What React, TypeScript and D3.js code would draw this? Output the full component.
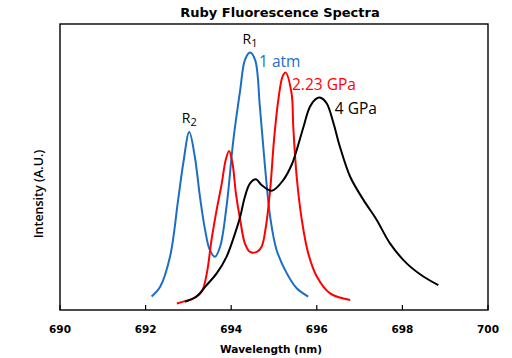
import React from "react";
import * as d3 from "d3";

// [wavelength nm, intensity a.u.]
const oneAtm: [number, number][] = [
  [692.14, 0.047], [692.34, 0.081], [692.57, 0.186], [692.76, 0.385], [692.88, 0.513],
  [693.02, 0.622], [693.15, 0.536], [693.27, 0.396], [693.39, 0.28], [693.5, 0.21],
  [693.62, 0.186], [693.74, 0.221], [693.89, 0.361], [694.05, 0.594], [694.21, 0.769],
  [694.32, 0.874], [694.44, 0.9], [694.56, 0.874], [694.67, 0.711], [694.79, 0.501],
  [694.91, 0.326], [695.06, 0.21], [695.3, 0.128], [695.53, 0.076], [695.8, 0.047],
];

const gpa223: [number, number][] = [
  [692.73, 0.023], [692.92, 0.031], [693.12, 0.041], [693.31, 0.064], [693.43, 0.128],
  [693.54, 0.245], [693.66, 0.35], [693.78, 0.443], [693.87, 0.524], [693.95, 0.556],
  [694.03, 0.513], [694.11, 0.408], [694.21, 0.315], [694.32, 0.233], [694.44, 0.203],
  [694.6, 0.203], [694.71, 0.221], [694.81, 0.291], [694.91, 0.42], [695.0, 0.594],
  [695.1, 0.734], [695.2, 0.816], [695.27, 0.83], [695.41, 0.758], [695.45, 0.641],
  [695.53, 0.466], [695.65, 0.315], [695.8, 0.198], [696.0, 0.117], [696.31, 0.058],
  [696.78, 0.035],
];

const gpa4: [number, number][] = [
  [692.92, 0.029], [693.19, 0.047], [693.39, 0.081], [693.66, 0.128], [693.89, 0.186],
  [694.09, 0.268], [694.21, 0.326], [694.32, 0.396], [694.44, 0.443], [694.58, 0.457],
  [694.71, 0.437], [694.95, 0.417], [695.22, 0.455], [695.41, 0.507], [695.53, 0.559],
  [695.69, 0.641], [695.84, 0.711], [696.0, 0.74], [696.09, 0.742], [696.23, 0.723],
  [696.39, 0.653], [696.54, 0.571], [696.78, 0.466], [697.09, 0.385], [697.4, 0.315],
  [697.71, 0.233], [698.1, 0.163], [698.49, 0.117], [698.84, 0.087],
];

const xTicks = [690, 692, 694, 696, 698, 700];

const series = [
  { name: "1 atm", data: oneAtm, color: "#1c6ec4" },
  { name: "2.23 GPa", data: gpa223, color: "#ff0000" },
  { name: "4 GPa", data: gpa4, color: "#000000" },
];

// text labels: [text, subscript, wavelength, intensity, colour, anchor]
const labels: [string, string, number, number, string, string][] = [
  ["R", "1", 694.44, 0.93, "#000000", "middle"],
  ["R", "2", 693.02, 0.654, "#000000", "middle"],
  ["1 atm", "", 694.65, 0.85, "#1c6ec4", "start"],
  ["2.23 GPa", "", 695.42, 0.77, "#ff0000", "start"],
  ["4 GPa", "", 696.42, 0.685, "#000000", "start"],
];

const W = 512;
const H = 358;
const m = { left: 60, right: 24, top: 24, bottom: 48 };

export default function App() {
  const x = d3.scaleLinear().domain([690, 700]).range([m.left, W - m.right]);
  const y = d3.scaleLinear().domain([0, 1]).range([H - m.bottom, m.top]);
  const line = d3
    .line<[number, number]>()
    .x((d) => x(d[0]))
    .y((d) => y(d[1]))
    .curve(d3.curveCatmullRom);

  const bold = "'DejaVu Sans', sans-serif";
  const plain = "'Open Sans', sans-serif";

  return (
    <svg
      width={W}
      height={H}
      style={{ position: "absolute", left: 0, top: 0, background: "#fff" }}
    >
      <text x={280} y={17} textAnchor="middle" fontFamily={bold} fontWeight="bold" fontSize={13}>
        Ruby Fluorescence Spectra
      </text>

      {series.map((s) => (
        <path key={s.name} d={line(s.data) || ""} fill="none" stroke={s.color} strokeWidth={2} />
      ))}

      <rect
        x={m.left}
        y={m.top}
        width={W - m.left - m.right}
        height={H - m.top - m.bottom}
        fill="none"
        stroke="#000"
        strokeWidth={1.4}
      />

      {xTicks.map((t) => (
        <g key={t}>
          <line x1={x(t)} x2={x(t)} y1={H - m.bottom} y2={H - m.bottom - 5} stroke="#000" strokeWidth={1.2} />
          <text x={x(t)} y={333} textAnchor="middle" fontFamily={bold} fontWeight="bold" fontSize={10.5}>
            {t}
          </text>
        </g>
      ))}

      <text x={271} y={353} textAnchor="middle" fontFamily={bold} fontWeight="bold" fontSize={10.5}>
        Wavelength (nm)
      </text>
      <text
        transform="translate(43,194) rotate(-90)"
        textAnchor="middle"
        fontFamily={plain}
        fontWeight="600"
        fontSize={12.5}
      >
        Intensity (A.U.)
      </text>

      {labels.map(([t, sub, wl, iv, c, anchor]) => (
        <text
          key={t + sub}
          x={x(wl)}
          y={y(iv)}
          textAnchor={anchor}
          fontFamily={plain}
          fontSize={sub ? 14 : 15.5}
          fill={c}
        >
          {t}
          {sub && (
            <tspan dy={3} fontSize={11}>
              {sub}
            </tspan>
          )}
        </text>
      ))}
    </svg>
  );
}
